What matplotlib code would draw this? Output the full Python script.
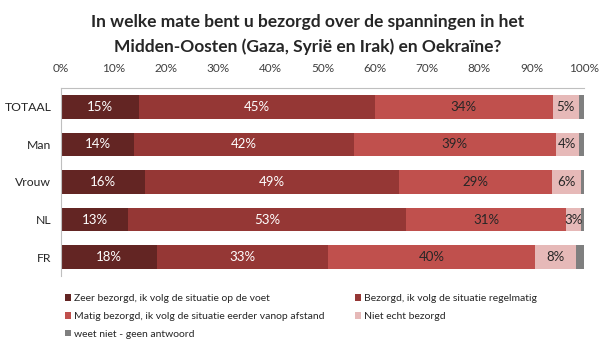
import matplotlib
matplotlib.use("Agg")
import matplotlib.pyplot as plt
from matplotlib.patches import Patch

plt.rcParams['font.family'] = ['Lato', 'DejaVu Sans']

groups = ["TOTAAL", "Man", "Vrouw", "NL", "FR"]
series = [
    "Zeer bezorgd, ik volg de situatie op de voet",
    "Bezorgd, ik volg de situatie regelmatig",
    "Matig bezorgd, ik volg de situatie eerder vanop afstand",
    "Niet echt bezorgd",
    "weet niet - geen antwoord",
]
zeer = [15, 14, 16, 12.8, 18.3]
bezorgd = [45, 42, 48.6, 53.2, 32.8]
matig = [34, 38.6, 29.2, 30.6, 39.6]
niet_echt = [5, 4.4, 5.6, 2.9, 7.7]
weet_niet = [1, 1, 0.6, 0.5, 1.6]
xticks = [0, 10, 20, 30, 40, 50, 60, 70, 80, 90, 100]

colors = ["#632523", "#953735", "#C0504D", "#E6B9B8", "#7F7F7F"]
label_colors = ["white", "white", "#262626", "#262626", None]

fig = plt.figure(figsize=(6, 3.46), dpi=100)
ax = fig.add_axes([0.1017, 0.2023, 0.8717, 0.5434])

ypos = list(range(len(groups)))
left = [0.0] * len(groups)
for vals, col, lc in zip([zeer, bezorgd, matig, niet_echt, weet_niet], colors, label_colors):
    ax.barh(ypos, vals, left=left, height=0.63, color=col, edgecolor="none")
    if lc is not None:
        for y, l, v in zip(ypos, left, vals):
            ax.text(l + v / 2, y, f"{v:.0f}%", ha="center", va="center",
                    fontsize=9.5, color=lc)
    left = [a + b for a, b in zip(left, vals)]

ax.set_xlim(0, 100)
ax.set_ylim(len(groups) - 0.5, -0.5)
ax.set_yticks(ypos)
ax.set_yticklabels(groups, fontsize=8.8, color="#262626")
ax.set_xticks(xticks)
ax.set_xticklabels([f"{t}%" for t in xticks], fontsize=8.5, color="#404040")
ax.xaxis.tick_top()
ax.tick_params(axis="both", length=0)
ax.tick_params(axis="x", pad=10)
ax.tick_params(axis="y", pad=7)
for s in ["right", "bottom"]:
    ax.spines[s].set_visible(False)
for s in ["top", "left"]:
    ax.spines[s].set_color("#BFBFBF")
    ax.spines[s].set_linewidth(0.8)

fig.text(0.512, 0.935, "In welke mate bent u bezorgd over de spanningen in het",
         ha="center", va="center", fontsize=12.5, fontweight="bold", color="#262626")
fig.text(0.512, 0.866, "Midden-Oosten (Gaza, Syrië en Irak) en Oekraïne?",
         ha="center", va="center", fontsize=12.5, fontweight="bold", color="#262626")

handles = [Patch(facecolor=c, edgecolor="none") for c in colors]
order = [0, 2, 4, 1, 3]
leg = fig.legend([handles[i] for i in order], [series[i] for i in order],
                 loc="upper left", bbox_to_anchor=(0.108, 0.15), ncol=2,
                 frameon=False, fontsize=7.5, handlelength=0.6, handleheight=0.6,
                 handletextpad=0.3, columnspacing=2.9, labelspacing=0.85,
                 borderaxespad=0, borderpad=0)
for t in leg.get_texts():
    t.set_color("#262626")

fig.savefig("out.png", dpi=100)
